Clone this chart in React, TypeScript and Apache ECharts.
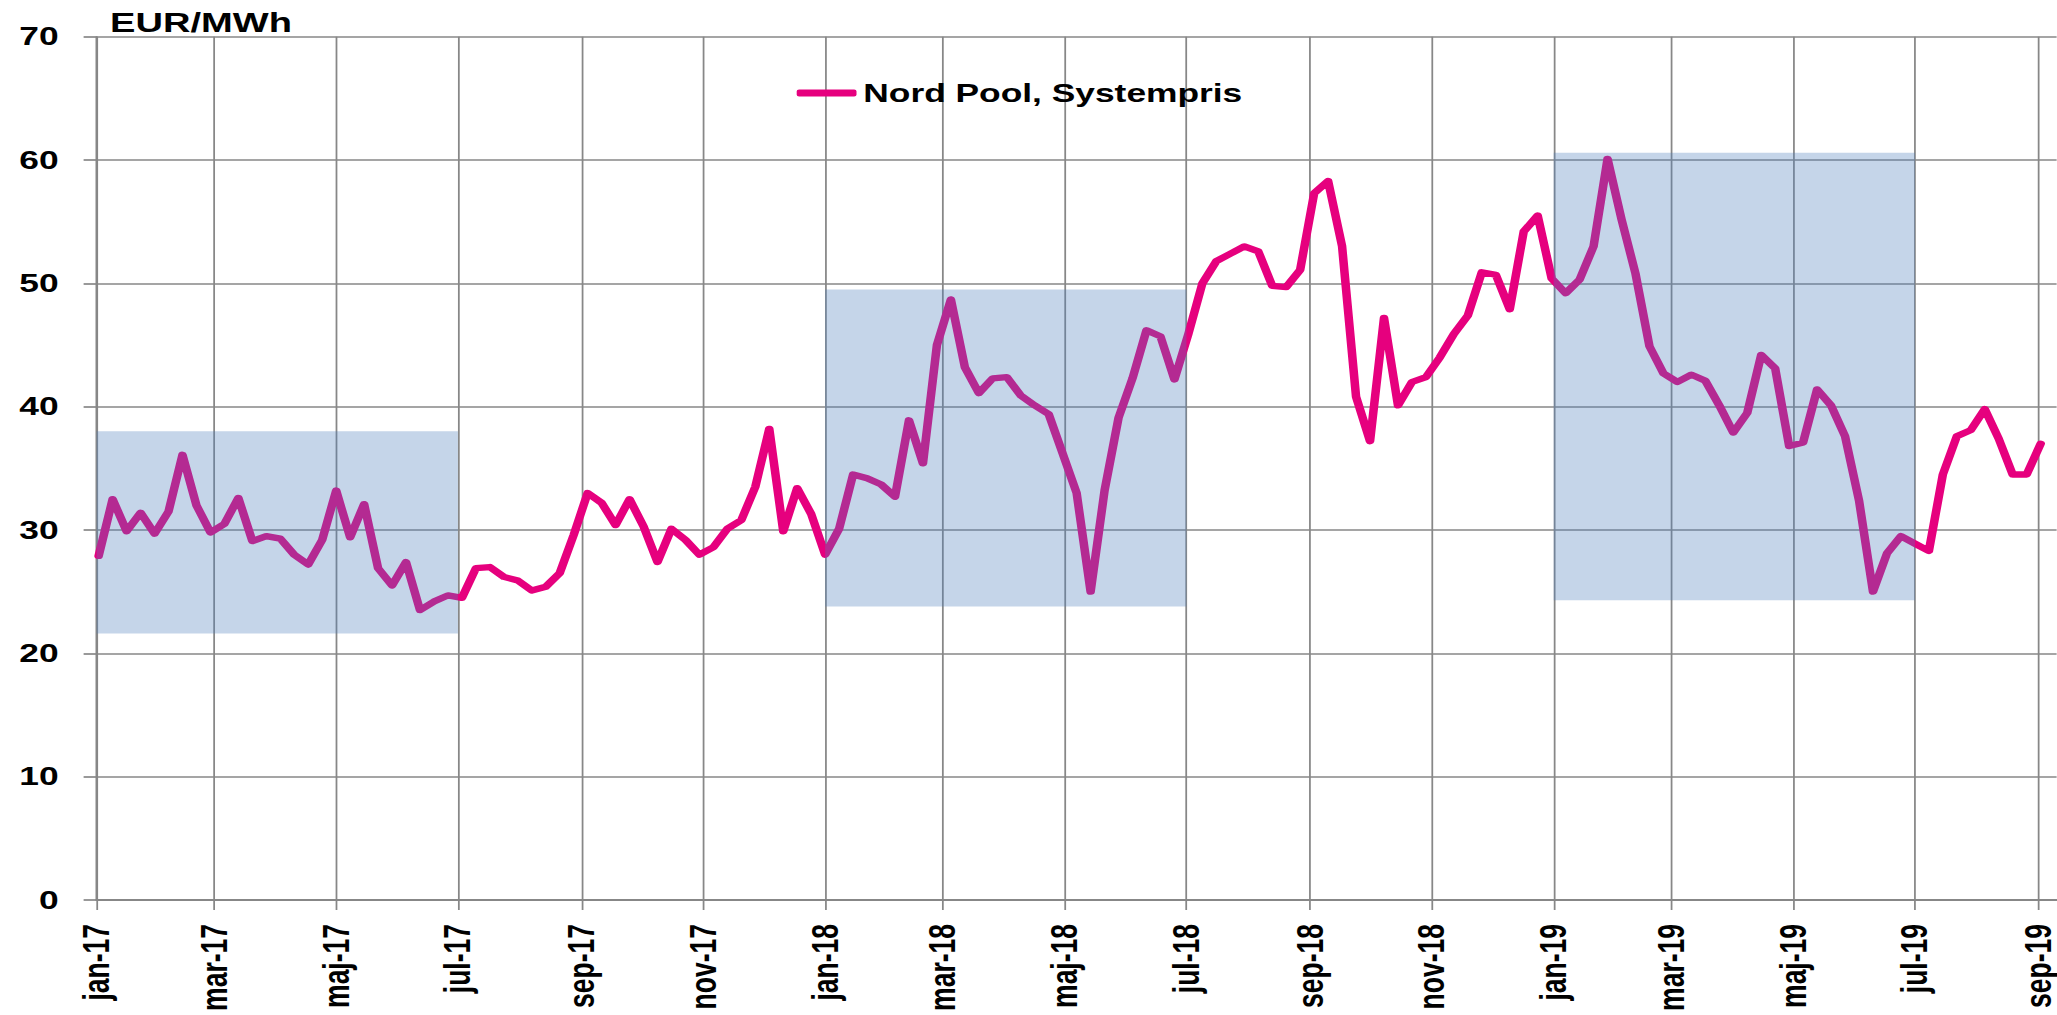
import React, { useEffect, useRef } from 'react';
import * as echarts from 'echarts';

// ---------- data ----------
const SERIES_NAME = 'Nord Pool, Systempris';
const Y_UNIT = 'EUR/MWh';
const FIRST_DAY = '2017-01-01';
const LAST_DAY = '2019-09-10';
const FIRST_WEEK = '2017-01-02';
const MONTHS_DA = ['jan', 'feb', 'mar', 'apr', 'maj', 'jun', 'jul', 'aug', 'sep', 'okt', 'nov', 'dec'];

const weeklyPrices = [
  27.9, 32.5, 29.9, 31.4, 29.7, 31.5, 36.1, 32.0, 29.8, 30.5,
  32.6, 29.1, 29.5, 29.3, 28.0, 27.2, 29.2, 33.2, 29.4, 32.1,
  26.9, 25.5, 27.4, 23.5, 24.2, 24.7, 24.5, 26.9, 27.0, 26.2,
  25.9, 25.1, 25.4, 26.5, 29.6, 33.0, 32.2, 30.4, 32.5, 30.3,
  27.4, 30.1, 29.2, 28.0, 28.6, 30.1, 30.8, 33.5, 38.2, 29.9,
  33.4, 31.3, 28.0, 30.1, 34.5, 34.2, 33.7, 32.7, 38.9, 35.4,
  45.0, 48.7, 43.2, 41.1, 42.3, 42.4, 40.9, 40.1, 39.4, 36.2,
  33.0, 25.0, 33.2, 39.1, 42.3, 46.2, 45.7, 42.2, 45.9, 50.0,
  51.8, 52.4, 53.0, 52.6, 49.8, 49.7, 51.1, 57.3, 58.3, 53.0,
  40.8, 37.2, 47.2, 40.1, 42.0, 42.4, 44.0, 45.9, 47.4, 50.9,
  50.7, 47.9, 54.2, 55.5, 50.4, 49.2, 50.3, 53.0, 60.1, 55.2,
  50.8, 44.9, 42.7, 42.0, 42.6, 42.1, 40.1, 37.9, 39.5, 44.2,
  43.1, 36.8, 37.1, 41.4, 40.1, 37.6, 32.4, 25.0, 28.1, 29.5,
  28.9, 28.3, 34.5, 37.6, 38.1, 39.8, 37.4, 34.5, 34.5, 37.0,
];

// shaded half-year ranges
const boxFrom = ['2017-01-01', '2018-01-01', '2019-01-01'];
const boxTo = ['2017-07-01', '2018-07-01', '2019-07-01'];
const boxLow = [21.6, 23.8, 24.3];
const boxHigh = [38.0, 49.5, 60.6];

const Y_MIN = 0;
const Y_MAX = 70;
const Y_STEP = 10;

// ---------- helpers ----------
function addDays(iso: string, n: number): string {
  const d = new Date(iso + 'T00:00:00Z');
  d.setUTCDate(d.getUTCDate() + n);
  return d.toISOString().slice(0, 10);
}

function buildDays(): string[] {
  const out: string[] = [];
  let cur = FIRST_DAY;
  while (cur <= LAST_DAY) {
    out.push(cur);
    cur = addDays(cur, 1);
  }
  return out;
}

const isTickDay = (_i: number, value: string) => {
  if (!value || value.slice(8, 10) !== '01') return false;
  const m = parseInt(value.slice(5, 7), 10);
  return m % 2 === 1;
};

const fmtMonth = (value: string) => {
  const m = parseInt(value.slice(5, 7), 10);
  return MONTHS_DA[m - 1] + '-' + value.slice(2, 4);
};

// ---------- styling ----------
const W = 1513;
const H = 1015;
const STRETCH = 2057 / W;
const FONT = '"Liberation Sans", Arial, sans-serif';
const GRID_COLOR = '#878787';
const LINE_COLOR = '#E6007E';
const BOX_COLOR = 'rgba(79,129,189,0.33)';

export default function App() {
  const ref = useRef<HTMLDivElement>(null);

  useEffect(() => {
    if (!ref.current) return;
    const chart = echarts.init(ref.current, undefined, { renderer: 'svg' });
    const days = buildDays();
    const points = weeklyPrices.map((v, i) => [addDays(FIRST_WEEK, 7 * i), v]);

    const option: any = {
      animation: false,
      backgroundColor: '#ffffff',
      textStyle: { fontFamily: FONT },
      grid: { left: 71.1, right: 0, top: 36.7, bottom: 115, containLabel: false },
      legend: {
        data: [SERIES_NAME],
        left: 586,
        top: 80,
        padding: 0,
        icon: 'roundRect',
        itemWidth: 44,
        itemHeight: 7,
        textStyle: { fontSize: 26, fontWeight: 'bold', color: '#000', fontFamily: FONT },
      },
      graphic: [
        {
          type: 'text',
          x: 81,
          y: 22,
          style: {
            text: Y_UNIT,
            fontSize: 28,
            fontWeight: 'bold',
            fontFamily: FONT,
            fill: '#000',
            align: 'left',
            verticalAlign: 'middle',
          },
        },
      ],
      xAxis: {
        type: 'category',
        data: days,
        boundaryGap: false,
        axisLine: { show: true, lineStyle: { color: GRID_COLOR, width: 2 } },
        axisTick: { show: true, interval: isTickDay, length: 10, lineStyle: { color: GRID_COLOR, width: 1.3 } },
        axisLabel: {
          interval: isTickDay,
          rotate: 90,
          margin: 24,
          fontSize: 26.5,
          fontWeight: 'bold',
          color: '#000',
          fontFamily: FONT,
          formatter: fmtMonth,
        },
        splitLine: { show: true, interval: isTickDay, lineStyle: { color: GRID_COLOR, width: 1.3 } },
      },
      yAxis: {
        type: 'value',
        min: Y_MIN,
        max: Y_MAX,
        interval: Y_STEP,
        axisLine: { show: true, lineStyle: { color: GRID_COLOR, width: 1.5 } },
        axisTick: { show: true, length: 9.6, lineStyle: { color: GRID_COLOR, width: 1.7 } },
        axisLabel: { fontSize: 26, fontWeight: 'bold', color: '#000', margin: 28, fontFamily: FONT },
        splitLine: { show: true, lineStyle: { color: GRID_COLOR, width: 1.7 } },
      },
      series: [
        {
          name: SERIES_NAME,
          type: 'line',
          data: points,
          symbol: 'none',
          showSymbol: false,
          z: 2,
          lineStyle: { color: LINE_COLOR, width: 6.3, join: 'round', cap: 'round' },
          itemStyle: { color: LINE_COLOR },
          markArea: {
            silent: true,
            z: 5,
            itemStyle: { color: BOX_COLOR, borderWidth: 0 },
            label: { show: false },
            data: boxFrom.map((f, i) => [
              { xAxis: f, yAxis: boxHigh[i] },
              { xAxis: boxTo[i], yAxis: boxLow[i] },
            ]),
          },
        },
      ],
    };
    chart.setOption(option);
    return () => chart.dispose();
  }, []);

  return (
    <div style={{ position: 'fixed', left: 0, top: 0, width: 2057, height: H, overflow: 'hidden', background: '#fff' }}>
      <div
        ref={ref}
        style={{
          position: 'absolute',
          left: 0,
          top: 0,
          width: W,
          height: H,
          transform: `scaleX(${STRETCH})`,
          transformOrigin: '0 0',
        }}
      />
    </div>
  );
}
